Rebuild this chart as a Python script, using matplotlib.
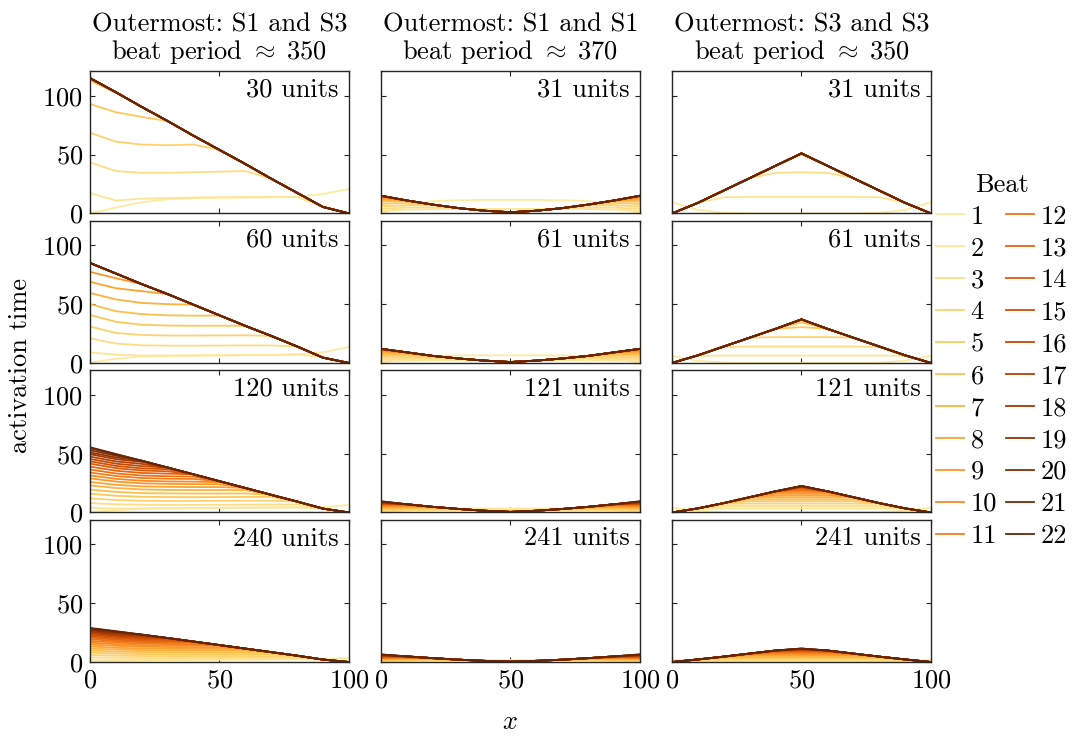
import numpy as np
import matplotlib
matplotlib.use("Agg")
import matplotlib.pyplot as plt

plt.rcParams['font.family'] = 'cmr10'
plt.rcParams['mathtext.fontset'] = 'cm'
plt.rcParams['axes.formatter.use_mathtext'] = True

# grid of x positions the profiles were read at
x_pts = [0, 10, 20, 30, 40, 50, 60, 70, 80, 90, 100]

# ---- Outermost S1 and S3 (activation time per beat, rows = beats 1..22) ----
s13_30_final = [115, 103, 90.5, 78.5, 66, 54, 42, 29.5, 17.5, 5.5, 0]
s13_30 = [
    [0, 5, 9.5, 12, 13, 13.3, 13.5, 13.7, 14, 16.5, 20.8],
    [17.4, 11, 12.5, 13, 13.5, 13.8, 13.9, 14, 14, 5.5, 0],
    [43.4, 36, 34.5, 34.5, 35, 35.5, 36, 29.5, 17.5, 5.5, 0],
    [68.6, 61, 58.5, 58, 58.5, 54, 42, 29.5, 17.5, 5.5, 0],
    [93, 86, 82, 78.5, 66, 54, 42, 29.5, 17.5, 5.5, 0],
    [113, 102.5, 90.5, 78.5, 66, 54, 42, 29.5, 17.5, 5.5, 0],
] + [s13_30_final] * 16

s13_60_final = [85, 76, 67, 58.5, 49.5, 40.5, 31.5, 23, 14, 4.5, 0]
s13_60 = [
    [0.5, 3.5, 5.5, 6, 6.3, 6.5, 6.7, 6.9, 7.2, 9, 13.5],
    [9, 7, 6.3, 6.3, 6.4, 6.5, 6.6, 6.8, 7.2, 5, 0],
    [21, 16.5, 15, 14.7, 14.7, 14.8, 14.9, 14.9, 14, 4.5, 0],
    [31, 25.5, 23.8, 23.3, 23.3, 23.4, 23.5, 23, 14, 4.5, 0],
    [40.8, 35, 32.5, 31.8, 31.6, 31.7, 31.5, 23, 14, 4.5, 0],
    [50, 44, 41.5, 40.5, 40.2, 40.3, 31.5, 23, 14, 4.5, 0],
    [59.5, 54, 51, 50, 49.5, 40.5, 31.5, 23, 14, 4.5, 0],
    [69, 63.5, 61, 58.5, 49.5, 40.5, 31.5, 23, 14, 4.5, 0],
    [77.4, 72, 67, 58.5, 49.5, 40.5, 31.5, 23, 14, 4.5, 0],
] + [s13_60_final] * 13

s13_120_final = [55.5, 49.7, 44, 38.2, 32.4, 26.6, 20.8, 15, 9.3, 3.3, 0]
s13_120 = [
    [0.5, 2, 3, 3.5, 3.8, 4, 4.1, 4.2, 4.3, 4.5, 6.5],
    [4, 3.3, 3.5, 3.7, 3.9, 4, 4.1, 4.2, 4.3, 3.3, 0],
    [8, 7, 6.6, 6.5, 6.5, 6.6, 6.7, 6.8, 6.9, 3.3, 0],
    [12, 10.6, 10, 9.8, 9.8, 9.9, 10, 10, 9.3, 3.3, 0],
    [16, 14.2, 13.4, 13.1, 13, 13.1, 13.2, 13.2, 9.3, 3.3, 0],
    [19.5, 17.5, 16.5, 16.2, 16.1, 16.1, 16.2, 15, 9.3, 3.3, 0],
    [23, 20.8, 19.6, 19.2, 19.1, 19.1, 19, 15, 9.3, 3.3, 0],
    [26, 23.5, 22.2, 21.8, 21.6, 21.6, 20.8, 15, 9.3, 3.3, 0],
    [29, 26.3, 24.8, 24.3, 24.1, 24, 20.8, 15, 9.3, 3.3, 0],
    [31.5, 28.6, 27, 26.4, 26.2, 25.8, 20.8, 15, 9.3, 3.3, 0],
    [34, 31, 29.3, 28.7, 28.5, 26.6, 20.8, 15, 9.3, 3.3, 0],
    [36.5, 33.2, 31.4, 30.8, 30.5, 26.6, 20.8, 15, 9.3, 3.3, 0],
    [39, 35.5, 33.6, 33, 32.4, 26.6, 20.8, 15, 9.3, 3.3, 0],
    [41.5, 37.7, 35.7, 35, 32.4, 26.6, 20.8, 15, 9.3, 3.3, 0],
    [43.5, 39.6, 37.5, 36.8, 32.4, 26.6, 20.8, 15, 9.3, 3.3, 0],
    [45.5, 41.5, 39.4, 38.2, 32.4, 26.6, 20.8, 15, 9.3, 3.3, 0],
    [47.5, 43.4, 41.3, 38.2, 32.4, 26.6, 20.8, 15, 9.3, 3.3, 0],
    [49.5, 45.3, 43, 38.2, 32.4, 26.6, 20.8, 15, 9.3, 3.3, 0],
    [51, 46.8, 44, 38.2, 32.4, 26.6, 20.8, 15, 9.3, 3.3, 0],
    [52.8, 48.3, 44, 38.2, 32.4, 26.6, 20.8, 15, 9.3, 3.3, 0],
    [54.5, 49.4, 44, 38.2, 32.4, 26.6, 20.8, 15, 9.3, 3.3, 0],
    s13_120_final,
]

s13_240_final = [29, 26.2, 23.3, 20.4, 17.4, 14.4, 11.4, 8.4, 5.4, 2.1, 0]
s13_240 = [
    [0.3, 1, 1.5, 1.8, 2, 2.1, 2.2, 2.3, 2.4, 2.5, 3.5],
    [2, 1.8, 1.8, 1.9, 2, 2.1, 2.2, 2.3, 2.4, 2.1, 0],
    [4, 3.6, 3.4, 3.4, 3.4, 3.4, 3.5, 3.5, 3.5, 2.1, 0],
    [6, 5.4, 5.1, 5, 5, 5, 5, 5, 5, 2.1, 0],
    [8, 7.2, 6.8, 6.6, 6.6, 6.6, 6.6, 6.6, 5.4, 2.1, 0],
    [9.8, 8.9, 8.5, 8.3, 8.2, 8.2, 8.2, 8.2, 5.4, 2.1, 0],
    [11.6, 10.6, 10.1, 9.8, 9.7, 9.7, 9.7, 8.4, 5.4, 2.1, 0],
    [13.3, 12.1, 11.5, 11.2, 11.1, 11.1, 11, 8.4, 5.4, 2.1, 0],
    [15, 13.7, 13, 12.7, 12.5, 12.5, 11.4, 8.4, 5.4, 2.1, 0],
    [16.5, 15.1, 14.3, 14, 13.8, 13.8, 11.4, 8.4, 5.4, 2.1, 0],
    [18, 16.5, 15.7, 15.3, 15.1, 14.4, 11.4, 8.4, 5.4, 2.1, 0],
    [19.5, 17.8, 16.9, 16.5, 16.3, 14.4, 11.4, 8.4, 5.4, 2.1, 0],
    [20.8, 19, 18, 17.6, 17.4, 14.4, 11.4, 8.4, 5.4, 2.1, 0],
    [22, 20.1, 19.1, 18.6, 17.4, 14.4, 11.4, 8.4, 5.4, 2.1, 0],
    [23.2, 21.2, 20.1, 19.6, 17.4, 14.4, 11.4, 8.4, 5.4, 2.1, 0],
    [24.3, 22.2, 21, 20.4, 17.4, 14.4, 11.4, 8.4, 5.4, 2.1, 0],
    [25.3, 23.1, 21.9, 20.4, 17.4, 14.4, 11.4, 8.4, 5.4, 2.1, 0],
    [26.2, 24, 22.7, 20.4, 17.4, 14.4, 11.4, 8.4, 5.4, 2.1, 0],
    [27, 24.8, 23.3, 20.4, 17.4, 14.4, 11.4, 8.4, 5.4, 2.1, 0],
    [27.8, 25.4, 23.3, 20.4, 17.4, 14.4, 11.4, 8.4, 5.4, 2.1, 0],
    [28.5, 26, 23.3, 20.4, 17.4, 14.4, 11.4, 8.4, 5.4, 2.1, 0],
    s13_240_final,
]

# ---- Outermost S1 and S1 ----
s11_31_final = [15, 11, 7.5, 4.5, 2.3, 1, 2.3, 4.5, 7.5, 11, 15]
s11_31 = [
    [0, 7, 10.5, 11.2, 11.5, 11.5, 11.5, 11.2, 10.5, 7, 0],
    [2, 3.3, 3.7, 3.8, 3.8, 3.8, 3.8, 3.8, 3.7, 3.3, 2],
    [4, 5, 5.2, 4.5, 2.3, 1.2, 2.3, 4.5, 5.2, 5, 4],
    [6, 7, 7, 4.5, 2.3, 1, 2.3, 4.5, 7, 7, 6],
    [8, 9, 7.5, 4.5, 2.3, 1, 2.3, 4.5, 7.5, 9, 8],
    [10, 10.5, 7.5, 4.5, 2.3, 1, 2.3, 4.5, 7.5, 10.5, 10],
    [11.5, 11, 7.5, 4.5, 2.3, 1, 2.3, 4.5, 7.5, 11, 11.5],
    [12.7, 11, 7.5, 4.5, 2.3, 1, 2.3, 4.5, 7.5, 11, 12.7],
    [13.6, 11, 7.5, 4.5, 2.3, 1, 2.3, 4.5, 7.5, 11, 13.6],
    [14.3, 11, 7.5, 4.5, 2.3, 1, 2.3, 4.5, 7.5, 11, 14.3],
    [14.8, 11, 7.5, 4.5, 2.3, 1, 2.3, 4.5, 7.5, 11, 14.8],
] + [s11_31_final] * 11

s11_61_final = [12, 9, 6, 3.8, 2, 0.8, 2, 3.8, 6, 9, 12]
s11_61 = [
    [0, 4, 6, 6.4, 6.5, 6.5, 6.5, 6.4, 6, 4, 0],
    [1.5, 2.2, 2.5, 2.5, 2, 0.9, 2, 2.5, 2.5, 2.2, 1.5],
    [3, 3.5, 3.8, 3.5, 2, 0.8, 2, 3.5, 3.8, 3.5, 3],
    [4.5, 5, 5, 3.8, 2, 0.8, 2, 3.8, 5, 5, 4.5],
    [6, 6.5, 6, 3.8, 2, 0.8, 2, 3.8, 6, 6.5, 6],
    [7.3, 7.5, 6, 3.8, 2, 0.8, 2, 3.8, 6, 7.5, 7.3],
    [8.5, 8.5, 6, 3.8, 2, 0.8, 2, 3.8, 6, 8.5, 8.5],
    [9.5, 9, 6, 3.8, 2, 0.8, 2, 3.8, 6, 9, 9.5],
    [10.3, 9, 6, 3.8, 2, 0.8, 2, 3.8, 6, 9, 10.3],
    [11, 9, 6, 3.8, 2, 0.8, 2, 3.8, 6, 9, 11],
    [11.5, 9, 6, 3.8, 2, 0.8, 2, 3.8, 6, 9, 11.5],
] + [s11_61_final] * 11

s11_121_final = [9.5, 7, 4.8, 3, 1.5, 0.5, 1.5, 3, 4.8, 7, 9.5]
s11_121 = [
    [0, 2.5, 3.2, 3.4, 3.4, 3.4, 3.4, 3.4, 3.2, 2.5, 0],
    [0.8, 1.8, 2.3, 2.5, 2.5, 2.5, 2.5, 2.5, 2.3, 1.8, 0.8],
    [1.5, 2, 2.2, 2.2, 1.6, 1.2, 1.6, 2.2, 2.2, 2, 1.5],
    [2.2, 2.6, 2.8, 2.8, 1.5, 0.7, 1.5, 2.8, 2.8, 2.6, 2.2],
    [2.9, 3.3, 3.4, 3, 1.5, 0.5, 1.5, 3, 3.4, 3.3, 2.9],
    [3.5, 3.9, 3.9, 3, 1.5, 0.5, 1.5, 3, 3.9, 3.9, 3.5],
    [4.1, 4.4, 4.4, 3, 1.5, 0.5, 1.5, 3, 4.4, 4.4, 4.1],
    [4.7, 5, 4.8, 3, 1.5, 0.5, 1.5, 3, 4.8, 5, 4.7],
    [5.2, 5.5, 4.8, 3, 1.5, 0.5, 1.5, 3, 4.8, 5.5, 5.2],
    [5.7, 6, 4.8, 3, 1.5, 0.5, 1.5, 3, 4.8, 6, 5.7],
    [6.2, 6.4, 4.8, 3, 1.5, 0.5, 1.5, 3, 4.8, 6.4, 6.2],
    [6.6, 6.8, 4.8, 3, 1.5, 0.5, 1.5, 3, 4.8, 6.8, 6.6],
    [7, 7, 4.8, 3, 1.5, 0.5, 1.5, 3, 4.8, 7, 7],
    [7.4, 7, 4.8, 3, 1.5, 0.5, 1.5, 3, 4.8, 7, 7.4],
    [7.8, 7, 4.8, 3, 1.5, 0.5, 1.5, 3, 4.8, 7, 7.8],
    [8.1, 7, 4.8, 3, 1.5, 0.5, 1.5, 3, 4.8, 7, 8.1],
    [8.4, 7, 4.8, 3, 1.5, 0.5, 1.5, 3, 4.8, 7, 8.4],
    [8.7, 7, 4.8, 3, 1.5, 0.5, 1.5, 3, 4.8, 7, 8.7],
    [9, 7, 4.8, 3, 1.5, 0.5, 1.5, 3, 4.8, 7, 9],
    [9.2, 7, 4.8, 3, 1.5, 0.5, 1.5, 3, 4.8, 7, 9.2],
    [9.4, 7, 4.8, 3, 1.5, 0.5, 1.5, 3, 4.8, 7, 9.4],
    s11_121_final,
]

s11_241_final = [6.5, 4.8, 3.3, 2, 1, 0.3, 1, 2, 3.3, 4.8, 6.5]
s11_241 = [
    [0, 1.2, 1.6, 1.7, 1.7, 1.7, 1.7, 1.7, 1.6, 1.2, 0],
    [0.4, 1, 1.3, 1.4, 1, 0.6, 1, 1.4, 1.3, 1, 0.4],
    [0.8, 1.3, 1.6, 1.6, 1, 0.4, 1, 1.6, 1.6, 1.3, 0.8],
    [1.2, 1.6, 1.9, 1.9, 1, 0.3, 1, 1.9, 1.9, 1.6, 1.2],
    [1.6, 2, 2.2, 2, 1, 0.3, 1, 2, 2.2, 2, 1.6],
    [2, 2.4, 2.5, 2, 1, 0.3, 1, 2, 2.5, 2.4, 2],
    [2.4, 2.7, 2.8, 2, 1, 0.3, 1, 2, 2.8, 2.7, 2.4],
    [2.8, 3, 3, 2, 1, 0.3, 1, 2, 3, 3, 2.8],
    [3.1, 3.3, 3.2, 2, 1, 0.3, 1, 2, 3.2, 3.3, 3.1],
    [3.4, 3.6, 3.3, 2, 1, 0.3, 1, 2, 3.3, 3.6, 3.4],
    [3.7, 3.9, 3.3, 2, 1, 0.3, 1, 2, 3.3, 3.9, 3.7],
    [4, 4.1, 3.3, 2, 1, 0.3, 1, 2, 3.3, 4.1, 4],
    [4.3, 4.3, 3.3, 2, 1, 0.3, 1, 2, 3.3, 4.3, 4.3],
    [4.6, 4.5, 3.3, 2, 1, 0.3, 1, 2, 3.3, 4.5, 4.6],
    [4.9, 4.7, 3.3, 2, 1, 0.3, 1, 2, 3.3, 4.7, 4.9],
    [5.2, 4.8, 3.3, 2, 1, 0.3, 1, 2, 3.3, 4.8, 5.2],
    [5.5, 4.8, 3.3, 2, 1, 0.3, 1, 2, 3.3, 4.8, 5.5],
    [5.8, 4.8, 3.3, 2, 1, 0.3, 1, 2, 3.3, 4.8, 5.8],
    [6, 4.8, 3.3, 2, 1, 0.3, 1, 2, 3.3, 4.8, 6],
    [6.2, 4.8, 3.3, 2, 1, 0.3, 1, 2, 3.3, 4.8, 6.2],
    [6.4, 4.8, 3.3, 2, 1, 0.3, 1, 2, 3.3, 4.8, 6.4],
    s11_241_final,
]

# ---- Outermost S3 and S3 ----
s33_31_final = [0, 9, 19.5, 30, 40.5, 51, 40.5, 30, 19.5, 9, 0]
s33_31 = [
    [9.5, 3, 0.5, 0, 0, 0, 0, 0, 0.5, 3, 9.5],
    [0, 9, 13.8, 14, 14, 14, 14, 14, 13.8, 9, 0],
    [0, 9, 19.5, 30, 34.5, 35, 34.5, 30, 19.5, 9, 0],
    [0, 9, 19.5, 30, 40.5, 50, 40.5, 30, 19.5, 9, 0],
] + [s33_31_final] * 18

s33_61_final = [0, 6.5, 14, 21.5, 29, 37, 29, 21.5, 14, 6.5, 0]
s33_61 = [
    [6, 2, 0.3, 0, 0, 0, 0, 0, 0.3, 2, 6],
    [0, 6, 6.3, 6.3, 6.3, 6.3, 6.3, 6.3, 6.3, 6, 0],
    [0, 6.5, 13.5, 14, 14, 14, 14, 14, 13.5, 6.5, 0],
    [0, 6.5, 14, 21.5, 22, 22, 22, 21.5, 14, 6.5, 0],
    [0, 6.5, 14, 21.5, 29, 30.5, 29, 21.5, 14, 6.5, 0],
    [0, 6.5, 14, 21.5, 29, 34.5, 29, 21.5, 14, 6.5, 0],
] + [s33_61_final] * 16

s33_121_final = [0, 3.5, 8, 13, 18, 22.5, 18, 13, 8, 3.5, 0]
s33_121 = [
    [4, 1.5, 0.3, 0, 0, 0, 0, 0, 0.3, 1.5, 4],
    [0, 3.2, 3.4, 3.4, 3.4, 3.4, 3.4, 3.4, 3.4, 3.2, 0],
    [0, 3.5, 5.5, 5.6, 5.6, 5.6, 5.6, 5.6, 5.5, 3.5, 0],
    [0, 3.5, 7.4, 7.6, 7.6, 7.6, 7.6, 7.6, 7.4, 3.5, 0],
    [0, 3.5, 8, 9.6, 9.6, 9.6, 9.6, 9.6, 8, 3.5, 0],
    [0, 3.5, 8, 11.2, 11.3, 11.3, 11.3, 11.2, 8, 3.5, 0],
    [0, 3.5, 8, 12.8, 13, 13, 13, 12.8, 8, 3.5, 0],
    [0, 3.5, 8, 13, 14.5, 14.6, 14.5, 13, 8, 3.5, 0],
    [0, 3.5, 8, 13, 15.9, 16, 15.9, 13, 8, 3.5, 0],
    [0, 3.5, 8, 13, 17.3, 17.5, 17.3, 13, 8, 3.5, 0],
    [0, 3.5, 8, 13, 18, 18.6, 18, 13, 8, 3.5, 0],
    [0, 3.5, 8, 13, 18, 19.7, 18, 13, 8, 3.5, 0],
    [0, 3.5, 8, 13, 18, 20.5, 18, 13, 8, 3.5, 0],
    [0, 3.5, 8, 13, 18, 21.2, 18, 13, 8, 3.5, 0],
    [0, 3.5, 8, 13, 18, 21.7, 18, 13, 8, 3.5, 0],
    [0, 3.5, 8, 13, 18, 22, 18, 13, 8, 3.5, 0],
    [0, 3.5, 8, 13, 18, 22.2, 18, 13, 8, 3.5, 0],
    [0, 3.5, 8, 13, 18, 22.3, 18, 13, 8, 3.5, 0],
    [0, 3.5, 8, 13, 18, 22.4, 18, 13, 8, 3.5, 0],
    [0, 3.5, 8, 13, 18, 22.5, 18, 13, 8, 3.5, 0],
    [0, 3.5, 8, 13, 18, 22.5, 18, 13, 8, 3.5, 0],
    s33_121_final,
]

s33_241_final = [0, 2.2, 4.6, 7.2, 9.8, 11.5, 9.8, 7.2, 4.6, 2.2, 0]
s33_241 = [
    [2, 0.8, 0.2, 0, 0, 0, 0, 0, 0.2, 0.8, 2],
    [0, 1, 1, 1, 1, 1, 1, 1, 1, 1, 0],
    [0, 1.7, 1.8, 1.8, 1.8, 1.8, 1.8, 1.8, 1.8, 1.7, 0],
    [0, 2.1, 2.6, 2.6, 2.6, 2.6, 2.6, 2.6, 2.6, 2.1, 0],
    [0, 2.2, 3.3, 3.4, 3.4, 3.4, 3.4, 3.4, 3.3, 2.2, 0],
    [0, 2.2, 4, 4.2, 4.2, 4.2, 4.2, 4.2, 4, 2.2, 0],
    [0, 2.2, 4.5, 5, 5, 5, 5, 5, 4.5, 2.2, 0],
    [0, 2.2, 4.6, 5.7, 5.8, 5.8, 5.8, 5.7, 4.6, 2.2, 0],
    [0, 2.2, 4.6, 6.4, 6.6, 6.6, 6.6, 6.4, 4.6, 2.2, 0],
    [0, 2.2, 4.6, 7, 7.3, 7.3, 7.3, 7, 4.6, 2.2, 0],
    [0, 2.2, 4.6, 7.2, 8, 8, 8, 7.2, 4.6, 2.2, 0],
    [0, 2.2, 4.6, 7.2, 8.5, 8.6, 8.5, 7.2, 4.6, 2.2, 0],
    [0, 2.2, 4.6, 7.2, 9, 9.2, 9, 7.2, 4.6, 2.2, 0],
    [0, 2.2, 4.6, 7.2, 9.5, 9.7, 9.5, 7.2, 4.6, 2.2, 0],
    [0, 2.2, 4.6, 7.2, 9.8, 10.1, 9.8, 7.2, 4.6, 2.2, 0],
    [0, 2.2, 4.6, 7.2, 9.8, 10.5, 9.8, 7.2, 4.6, 2.2, 0],
    [0, 2.2, 4.6, 7.2, 9.8, 10.8, 9.8, 7.2, 4.6, 2.2, 0],
    [0, 2.2, 4.6, 7.2, 9.8, 11, 9.8, 7.2, 4.6, 2.2, 0],
    [0, 2.2, 4.6, 7.2, 9.8, 11.2, 9.8, 7.2, 4.6, 2.2, 0],
    [0, 2.2, 4.6, 7.2, 9.8, 11.35, 9.8, 7.2, 4.6, 2.2, 0],
    [0, 2.2, 4.6, 7.2, 9.8, 11.45, 9.8, 7.2, 4.6, 2.2, 0],
    s33_241_final,
]

panels = [
    [s13_30, s11_31, s33_31],
    [s13_60, s11_61, s33_61],
    [s13_120, s11_121, s33_121],
    [s13_240, s11_241, s33_241],
]
panel_labels = [
    ["30 units", "31 units", "31 units"],
    ["60 units", "61 units", "61 units"],
    ["120 units", "121 units", "121 units"],
    ["240 units", "241 units", "241 units"],
]
col_titles = [
    "Outermost: S1 and S3\nbeat period $\\approx\\;350$",
    "Outermost: S1 and S1\nbeat period $\\approx\\;370$",
    "Outermost: S3 and S3\nbeat period $\\approx\\;350$",
]
beats = [str(b) for b in range(1, 23)]

fs = 19
colors = plt.get_cmap('YlOrBr')(np.linspace(0.2, 1.0, len(beats)))

fig, axes = plt.subplots(4, 3, figsize=(10.76, 7.36), dpi=100)
fig.subplots_adjust(left=0.0836, right=0.8652, top=0.9035, bottom=0.1005,
                    wspace=0.124, hspace=0.05)

for r in range(4):
    for c in range(3):
        ax = axes[r, c]
        for k, prof in enumerate(panels[r][c]):
            ax.plot(x_pts, prof, color=colors[k], lw=1.3, label=beats[k])
        ax.set_xlim(0, 100)
        ax.set_ylim(0, 121)
        ax.set_xticks([0, 50, 100])
        ax.set_yticks([0, 50, 100])
        ax.tick_params(direction='in', top=True, right=True, length=3.5,
                       width=0.8, labelsize=fs, pad=5, color='#262626')
        for sp in ax.spines.values():
            sp.set_color('#262626')
            sp.set_linewidth(1.0)
        if c > 0:
            ax.set_yticklabels([])
        if r < 3:
            ax.set_xticklabels([])
        ax.text(0.96, 0.95, panel_labels[r][c], transform=ax.transAxes,
                ha='right', va='top', fontsize=fs)
        if r == 0:
            ax.set_title(col_titles[c], fontsize=fs, pad=9, linespacing=1.05)

fig.text(0.019, 0.503, "activation time", rotation=90, ha='center',
         va='center', fontsize=fs)
fig.text(0.474, 0.019, "$x$", ha='center', va='center', fontsize=fs)

handles, labels = axes[0, 0].get_legend_handles_labels()
fig.legend(handles, labels, title="Beat", ncol=2, loc='upper left',
           bbox_to_anchor=(0.870, 0.765), frameon=False, fontsize=fs,
           title_fontsize=fs, handlelength=1.05, handletextpad=0.25,
           columnspacing=0.35, labelspacing=0.31, borderpad=0,
           borderaxespad=0)

fig.savefig("out.png", dpi=100)
